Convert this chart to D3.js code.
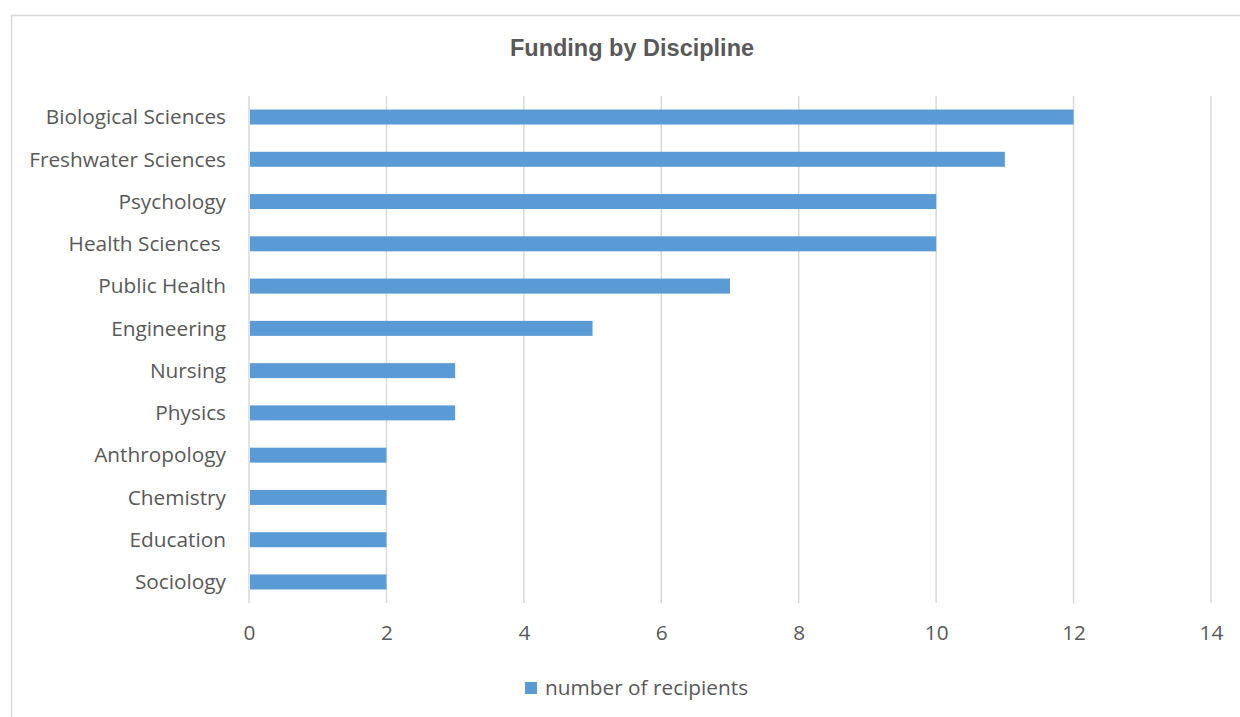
<!DOCTYPE html>
<html>
<head>
<meta charset="utf-8">
<script src="https://cdn.jsdelivr.net/npm/d3@7"></script>
<style>
  body { margin: 0; background: #fff; }
  text { font-family: "Open Sans", sans-serif; fill: #595959; }
</style>
</head>
<body>
<svg class="chart"></svg>
<script>
// values
var disciplines = ["Biological Sciences", "Freshwater Sciences", "Psychology", "Health Sciences ",
    "Public Health", "Engineering", "Nursing", "Physics", "Anthropology", "Chemistry",
    "Education", "Sociology"];
var recipients = [12, 11, 10, 10, 7, 5, 3, 3, 2, 2, 2, 2];
var xTicks = [0, 2, 4, 6, 8, 10, 12, 14];
var seriesName = "number of recipients";

var width = 1240, height = 717;
var margin = {left: 249, right: 29, top: 96, bottom: 114};

var svg = d3.select(".chart")
    .attr("width", width)
    .attr("height", height);

// chart border
svg.append("rect")
    .attr("x", 11.5).attr("y", 15.5)
    .attr("width", 1300).attr("height", 800)
    .attr("fill", "none")
    .attr("stroke", "#d9d9d9")
    .attr("stroke-width", 1.5);

var x = d3.scaleLinear()
    .domain([0, 14])
    .range([margin.left, width - margin.right]);

var y = d3.scaleBand()
    .domain(disciplines)
    .range([margin.top, height - margin.bottom])
    .paddingInner(0.645)
    .paddingOuter(0.32);

// gridlines
svg.append("g")
    .selectAll("line")
    .data(xTicks)
    .enter().append("line")
    .attr("x1", function (d) { return x(d); })
    .attr("x2", function (d) { return x(d); })
    .attr("y1", margin.top)
    .attr("y2", height - margin.bottom)
    .attr("stroke", "#d9d9d9")
    .attr("stroke-width", 1.5);

// bars
svg.append("g")
    .selectAll("rect")
    .data(recipients)
    .enter().append("rect")
    .attr("x", x(0) + 1)
    .attr("y", function (d, i) { return y(disciplines[i]); })
    .attr("width", function (d) { return x(d) - x(0) - 1; })
    .attr("height", y.bandwidth())
    .attr("fill", "#5b9bd5");

// category axis
var yAxis = svg.append("g")
    .attr("transform", "translate(" + (margin.left - 23) + ",0)")
    .call(d3.axisLeft(y).tickSize(0).tickPadding(0));
yAxis.select(".domain").remove();
yAxis.selectAll("text")
    .style("font-size", "20.8px")
    .style("white-space", "pre")
    .attr("dy", "0.35em")
    .attr("fill", "#595959");

// value axis
var xAxis = svg.append("g")
    .attr("transform", "translate(0," + (height - margin.bottom) + ")")
    .call(d3.axisBottom(x).tickValues(xTicks).tickSize(0).tickPadding(22));
xAxis.select(".domain").remove();
xAxis.selectAll("text")
    .style("font-size", "20.8px")
    .attr("fill", "#595959");

// title
svg.append("text")
    .attr("x", 632)
    .attr("y", 56)
    .attr("text-anchor", "middle")
    .style("font-family", "'Liberation Sans', Arial, sans-serif")
    .style("font-weight", "bold")
    .style("font-size", "23.5px")
    .text("Funding by Discipline");

// legend
var legend = svg.append("g").attr("transform", "translate(525,682)");
legend.append("rect")
    .attr("width", 12).attr("height", 12)
    .attr("fill", "#5b9bd5");
legend.append("text")
    .attr("x", 20).attr("y", 6)
    .attr("dy", "0.35em")
    .style("font-size", "20.8px")
    .text(seriesName);
</script>
</body>
</html>
